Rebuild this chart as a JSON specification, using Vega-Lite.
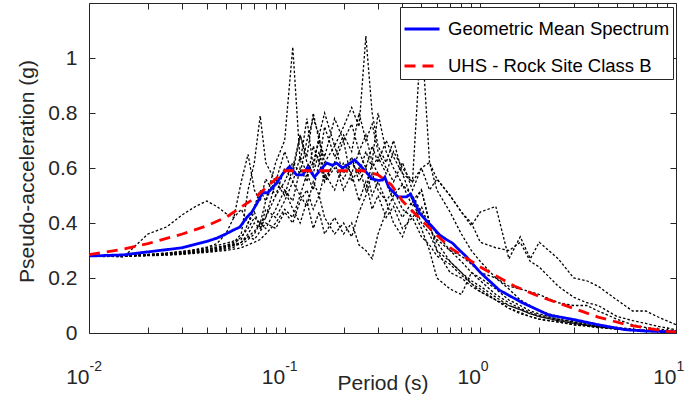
{
  "$schema": "https://vega.github.io/schema/vega-lite/v6.json",
  "width": 587,
  "height": 330,
  "autosize": {"type": "none"},
  "padding": {"left": 89, "top": 3, "right": 13, "bottom": 61},
  "config": {
    "view": {"stroke": "#262626", "strokeWidth": 1},
    "font": "Liberation Sans",
    "axis": {"grid": false, "domain": false, "tickColor": "#262626", "tickWidth": 1, "labelColor": "#262626", "titleColor": "#262626", "labelFont": "Liberation Sans", "titleFont": "Liberation Sans", "titleFontWeight": "normal", "labelFlush": false, "labelOverlap": false, "labelBound": false},
    "legend": {"orient": "none", "legendX": 311, "legendY": 4, "direction": "vertical", "strokeColor": "#262626", "fillColor": "white", "padding": 3, "labelFontSize": 18.5, "labelFont": "Liberation Sans", "labelColor": "black", "symbolType": "stroke", "symbolSize": 1225, "symbolStrokeWidth": 3, "rowPadding": 8, "labelOffset": 7, "labelLimit": 400}
  },
  "datasets": {
    "rec": [
      {"T": 0.01, "r1": 0.28, "r2": 0.28, "r3": 0.279, "r4": 0.28, "r5": 0.281, "r6": 0.28, "r7": 0.28, "r8": 0.279, "r9": 0.28, "r10": 0.28},
      {"T": 0.012, "r1": 0.28, "r2": 0.28, "r3": 0.278, "r4": 0.279, "r5": 0.28, "r6": 0.279, "r7": 0.28, "r8": 0.279, "r9": 0.28, "r10": 0.279},
      {"T": 0.015, "r1": 0.276, "r2": 0.281, "r3": 0.28, "r4": 0.28, "r5": 0.279, "r6": 0.281, "r7": 0.282, "r8": 0.28, "r9": 0.281, "r10": 0.28},
      {"T": 0.02, "r1": 0.36, "r2": 0.284, "r3": 0.282, "r4": 0.283, "r5": 0.281, "r6": 0.284, "r7": 0.286, "r8": 0.283, "r9": 0.285, "r10": 0.282},
      {"T": 0.025, "r1": 0.386, "r2": 0.288, "r3": 0.285, "r4": 0.286, "r5": 0.283, "r6": 0.289, "r7": 0.291, "r8": 0.287, "r9": 0.29, "r10": 0.285},
      {"T": 0.03, "r1": 0.43, "r2": 0.292, "r3": 0.288, "r4": 0.29, "r5": 0.286, "r6": 0.294, "r7": 0.297, "r8": 0.291, "r9": 0.296, "r10": 0.289},
      {"T": 0.035, "r1": 0.46, "r2": 0.297, "r3": 0.292, "r4": 0.294, "r5": 0.29, "r6": 0.3, "r7": 0.303, "r8": 0.296, "r9": 0.303, "r10": 0.293},
      {"T": 0.04, "r1": 0.48, "r2": 0.302, "r3": 0.296, "r4": 0.298, "r5": 0.293, "r6": 0.306, "r7": 0.31, "r8": 0.302, "r9": 0.312, "r10": 0.298},
      {"T": 0.045, "r1": 0.46, "r2": 0.308, "r3": 0.3, "r4": 0.303, "r5": 0.297, "r6": 0.312, "r7": 0.318, "r8": 0.31, "r9": 0.325, "r10": 0.303},
      {"T": 0.05, "r1": 0.435, "r2": 0.315, "r3": 0.305, "r4": 0.31, "r5": 0.3, "r6": 0.318, "r7": 0.326, "r8": 0.318, "r9": 0.36, "r10": 0.31},
      {"T": 0.055, "r1": 0.42, "r2": 0.322, "r3": 0.312, "r4": 0.318, "r5": 0.305, "r6": 0.325, "r7": 0.335, "r8": 0.33, "r9": 0.42, "r10": 0.32},
      {"T": 0.06, "r1": 0.45, "r2": 0.35, "r3": 0.33, "r4": 0.33, "r5": 0.31, "r6": 0.32, "r7": 0.34, "r8": 0.36, "r9": 0.55, "r10": 0.33},
      {"T": 0.065, "r1": 0.4, "r2": 0.38, "r3": 0.35, "r4": 0.36, "r5": 0.32, "r6": 0.34, "r7": 0.4, "r8": 0.52, "r9": 0.65, "r10": 0.35},
      {"T": 0.07, "r1": 0.44, "r2": 0.42, "r3": 0.37, "r4": 0.4, "r5": 0.33, "r6": 0.36, "r7": 0.46, "r8": 0.62, "r9": 0.52, "r10": 0.34},
      {"T": 0.075, "r1": 0.38, "r2": 0.4, "r3": 0.4, "r4": 0.38, "r5": 0.34, "r6": 0.4, "r7": 0.52, "r8": 0.79, "r9": 0.48, "r10": 0.37},
      {"T": 0.08, "r1": 0.42, "r2": 0.48, "r3": 0.42, "r4": 0.45, "r5": 0.36, "r6": 0.38, "r7": 0.48, "r8": 0.62, "r9": 0.56, "r10": 0.4},
      {"T": 0.09, "r1": 0.55, "r2": 0.62, "r3": 0.5, "r4": 0.42, "r5": 0.4, "r6": 0.45, "r7": 0.56, "r8": 0.55, "r9": 0.5, "r10": 0.38},
      {"T": 0.1, "r1": 0.5, "r2": 0.7, "r3": 0.55, "r4": 0.48, "r5": 0.45, "r6": 0.52, "r7": 0.52, "r8": 0.66, "r9": 0.6, "r10": 0.44},
      {"T": 0.11, "r1": 0.6, "r2": 1.04, "r3": 0.62, "r4": 0.55, "r5": 0.42, "r6": 0.48, "r7": 0.45, "r8": 0.58, "r9": 0.55, "r10": 0.4},
      {"T": 0.12, "r1": 0.72, "r2": 0.62, "r3": 0.58, "r4": 0.5, "r5": 0.5, "r6": 0.6, "r7": 0.4, "r8": 0.72, "r9": 0.64, "r10": 0.48},
      {"T": 0.13, "r1": 0.62, "r2": 0.78, "r3": 0.7, "r4": 0.58, "r5": 0.46, "r6": 0.55, "r7": 0.48, "r8": 0.64, "r9": 0.58, "r10": 0.52},
      {"T": 0.14, "r1": 0.58, "r2": 0.6, "r3": 0.78, "r4": 0.52, "r5": 0.55, "r6": 0.68, "r7": 0.38, "r8": 0.8, "r9": 0.62, "r10": 0.45},
      {"T": 0.15, "r1": 0.66, "r2": 0.72, "r3": 0.72, "r4": 0.62, "r5": 0.5, "r6": 0.62, "r7": 0.44, "r8": 0.7, "r9": 0.7, "r10": 0.5},
      {"T": 0.16, "r1": 0.55, "r2": 0.56, "r3": 0.8, "r4": 0.55, "r5": 0.58, "r6": 0.75, "r7": 0.36, "r8": 0.62, "r9": 0.64, "r10": 0.42},
      {"T": 0.18, "r1": 0.62, "r2": 0.62, "r3": 0.68, "r4": 0.6, "r5": 0.52, "r6": 0.64, "r7": 0.42, "r8": 0.68, "r9": 0.78, "r10": 0.36},
      {"T": 0.2, "r1": 0.7, "r2": 0.52, "r3": 0.75, "r4": 0.56, "r5": 0.62, "r6": 0.72, "r7": 0.36, "r8": 0.58, "r9": 0.7, "r10": 0.4},
      {"T": 0.22, "r1": 0.55, "r2": 0.58, "r3": 0.82, "r4": 0.62, "r5": 0.58, "r6": 0.66, "r7": 0.4, "r8": 0.64, "r9": 0.76, "r10": 0.35},
      {"T": 0.24, "r1": 0.6, "r2": 0.48, "r3": 0.75, "r4": 0.58, "r5": 0.66, "r6": 0.8, "r7": 0.32, "r8": 0.55, "r9": 0.66, "r10": 0.44},
      {"T": 0.26, "r1": 0.52, "r2": 0.55, "r3": 1.08, "r4": 0.66, "r5": 0.6, "r6": 0.7, "r7": 0.3, "r8": 0.6, "r9": 0.72, "r10": 0.5},
      {"T": 0.28, "r1": 0.62, "r2": 0.45, "r3": 0.8, "r4": 0.6, "r5": 0.68, "r6": 0.76, "r7": 0.27, "r8": 0.5, "r9": 0.62, "r10": 0.58},
      {"T": 0.3, "r1": 0.58, "r2": 0.5, "r3": 0.68, "r4": 0.64, "r5": 0.62, "r6": 0.66, "r7": 0.36, "r8": 0.55, "r9": 0.8, "r10": 0.52},
      {"T": 0.33, "r1": 0.55, "r2": 0.42, "r3": 0.62, "r4": 0.58, "r5": 0.7, "r6": 0.6, "r7": 0.44, "r8": 0.48, "r9": 0.66, "r10": 0.48},
      {"T": 0.36, "r1": 0.48, "r2": 0.46, "r3": 0.7, "r4": 0.66, "r5": 0.64, "r6": 0.55, "r7": 0.5, "r8": 0.52, "r9": 0.6, "r10": 0.4},
      {"T": 0.4, "r1": 0.42, "r2": 0.38, "r3": 0.58, "r4": 0.6, "r5": 0.58, "r6": 0.62, "r7": 0.54, "r8": 0.45, "r9": 0.54, "r10": 0.35},
      {"T": 0.45, "r1": 0.48, "r2": 0.42, "r3": 0.48, "r4": 0.55, "r5": 0.55, "r6": 0.52, "r7": 0.46, "r8": 0.42, "r9": 0.5, "r10": 0.45},
      {"T": 0.5, "r1": 0.4, "r2": 0.35, "r3": 0.52, "r4": 1.1, "r5": 0.6, "r6": 0.6, "r7": 0.52, "r8": 0.46, "r9": 0.44, "r10": 0.38},
      {"T": 0.55, "r1": 0.36, "r2": 0.32, "r3": 0.4, "r4": 0.62, "r5": 0.52, "r6": 0.62, "r7": 0.4, "r8": 0.38, "r9": 0.38, "r10": 0.3},
      {"T": 0.6, "r1": 0.3, "r2": 0.28, "r3": 0.36, "r4": 0.52, "r5": 0.56, "r6": 0.56, "r7": 0.3, "r8": 0.34, "r9": 0.33, "r10": 0.2},
      {"T": 0.7, "r1": 0.26, "r2": 0.25, "r3": 0.3, "r4": 0.44, "r5": 0.5, "r6": 0.5, "r7": 0.22, "r8": 0.3, "r9": 0.26, "r10": 0.16},
      {"T": 0.8, "r1": 0.22, "r2": 0.21, "r3": 0.26, "r4": 0.36, "r5": 0.44, "r6": 0.44, "r7": 0.2, "r8": 0.28, "r9": 0.22, "r10": 0.14},
      {"T": 0.9, "r1": 0.18, "r2": 0.18, "r3": 0.22, "r4": 0.3, "r5": 0.39, "r6": 0.4, "r7": 0.17, "r8": 0.25, "r9": 0.19, "r10": 0.22},
      {"T": 1.0, "r1": 0.16, "r2": 0.15, "r3": 0.19, "r4": 0.26, "r5": 0.44, "r6": 0.33, "r7": 0.15, "r8": 0.22, "r9": 0.17, "r10": 0.2},
      {"T": 1.2, "r1": 0.12, "r2": 0.12, "r3": 0.14, "r4": 0.2, "r5": 0.46, "r6": 0.31, "r7": 0.12, "r8": 0.2, "r9": 0.13, "r10": 0.16},
      {"T": 1.4, "r1": 0.09, "r2": 0.1, "r3": 0.11, "r4": 0.16, "r5": 0.27, "r6": 0.3, "r7": 0.09, "r8": 0.17, "r9": 0.1, "r10": 0.12},
      {"T": 1.6, "r1": 0.075, "r2": 0.085, "r3": 0.09, "r4": 0.12, "r5": 0.35, "r6": 0.33, "r7": 0.07, "r8": 0.16, "r9": 0.085, "r10": 0.1},
      {"T": 1.8, "r1": 0.06, "r2": 0.07, "r3": 0.075, "r4": 0.1, "r5": 0.27, "r6": 0.26, "r7": 0.06, "r8": 0.15, "r9": 0.07, "r10": 0.08},
      {"T": 2.0, "r1": 0.05, "r2": 0.06, "r3": 0.065, "r4": 0.08, "r5": 0.33, "r6": 0.24, "r7": 0.05, "r8": 0.14, "r9": 0.06, "r10": 0.07},
      {"T": 2.5, "r1": 0.04, "r2": 0.045, "r3": 0.05, "r4": 0.06, "r5": 0.27, "r6": 0.17, "r7": 0.04, "r8": 0.11, "r9": 0.045, "r10": 0.05},
      {"T": 3.0, "r1": 0.03, "r2": 0.035, "r3": 0.04, "r4": 0.045, "r5": 0.2, "r6": 0.13, "r7": 0.03, "r8": 0.1, "r9": 0.035, "r10": 0.04},
      {"T": 3.5, "r1": 0.025, "r2": 0.028, "r3": 0.03, "r4": 0.035, "r5": 0.19, "r6": 0.11, "r7": 0.025, "r8": 0.1, "r9": 0.028, "r10": 0.03},
      {"T": 4.0, "r1": 0.02, "r2": 0.022, "r3": 0.025, "r4": 0.028, "r5": 0.17, "r6": 0.1, "r7": 0.02, "r8": 0.08, "r9": 0.022, "r10": 0.025},
      {"T": 5.0, "r1": 0.015, "r2": 0.015, "r3": 0.017, "r4": 0.02, "r5": 0.12, "r6": 0.06, "r7": 0.014, "r8": 0.05, "r9": 0.015, "r10": 0.018},
      {"T": 6.0, "r1": 0.01, "r2": 0.011, "r3": 0.012, "r4": 0.014, "r5": 0.08, "r6": 0.045, "r7": 0.01, "r8": 0.03, "r9": 0.01, "r10": 0.012},
      {"T": 7.0, "r1": 0.008, "r2": 0.008, "r3": 0.009, "r4": 0.01, "r5": 0.08, "r6": 0.035, "r7": 0.008, "r8": 0.02, "r9": 0.008, "r10": 0.009},
      {"T": 8.0, "r1": 0.006, "r2": 0.006, "r3": 0.007, "r4": 0.008, "r5": 0.06, "r6": 0.025, "r7": 0.006, "r8": 0.015, "r9": 0.006, "r10": 0.007},
      {"T": 10.0, "r1": 0.004, "r2": 0.004, "r3": 0.005, "r4": 0.005, "r5": 0.03, "r6": 0.012, "r7": 0.004, "r8": 0.008, "r9": 0.004, "r10": 0.005}
    ],
    "mean": [
      {"s": "Geometric Mean Spectrum", "T": 0.01, "Sa": 0.28},
      {"s": "Geometric Mean Spectrum", "T": 0.015, "Sa": 0.284},
      {"s": "Geometric Mean Spectrum", "T": 0.02, "Sa": 0.295},
      {"s": "Geometric Mean Spectrum", "T": 0.03, "Sa": 0.31},
      {"s": "Geometric Mean Spectrum", "T": 0.04, "Sa": 0.333},
      {"s": "Geometric Mean Spectrum", "T": 0.045, "Sa": 0.345},
      {"s": "Geometric Mean Spectrum", "T": 0.05, "Sa": 0.36},
      {"s": "Geometric Mean Spectrum", "T": 0.055, "Sa": 0.375},
      {"s": "Geometric Mean Spectrum", "T": 0.059, "Sa": 0.385},
      {"s": "Geometric Mean Spectrum", "T": 0.064, "Sa": 0.42},
      {"s": "Geometric Mean Spectrum", "T": 0.068, "Sa": 0.44},
      {"s": "Geometric Mean Spectrum", "T": 0.072, "Sa": 0.47},
      {"s": "Geometric Mean Spectrum", "T": 0.077, "Sa": 0.51},
      {"s": "Geometric Mean Spectrum", "T": 0.082, "Sa": 0.51},
      {"s": "Geometric Mean Spectrum", "T": 0.091, "Sa": 0.545},
      {"s": "Geometric Mean Spectrum", "T": 0.098, "Sa": 0.58},
      {"s": "Geometric Mean Spectrum", "T": 0.106, "Sa": 0.605},
      {"s": "Geometric Mean Spectrum", "T": 0.115, "Sa": 0.575},
      {"s": "Geometric Mean Spectrum", "T": 0.124, "Sa": 0.575},
      {"s": "Geometric Mean Spectrum", "T": 0.131, "Sa": 0.603},
      {"s": "Geometric Mean Spectrum", "T": 0.142, "Sa": 0.567},
      {"s": "Geometric Mean Spectrum", "T": 0.153, "Sa": 0.595},
      {"s": "Geometric Mean Spectrum", "T": 0.164, "Sa": 0.618},
      {"s": "Geometric Mean Spectrum", "T": 0.175, "Sa": 0.61},
      {"s": "Geometric Mean Spectrum", "T": 0.184, "Sa": 0.618},
      {"s": "Geometric Mean Spectrum", "T": 0.198, "Sa": 0.6},
      {"s": "Geometric Mean Spectrum", "T": 0.213, "Sa": 0.615},
      {"s": "Geometric Mean Spectrum", "T": 0.228, "Sa": 0.63},
      {"s": "Geometric Mean Spectrum", "T": 0.25, "Sa": 0.6},
      {"s": "Geometric Mean Spectrum", "T": 0.28, "Sa": 0.56},
      {"s": "Geometric Mean Spectrum", "T": 0.3, "Sa": 0.555},
      {"s": "Geometric Mean Spectrum", "T": 0.316, "Sa": 0.556},
      {"s": "Geometric Mean Spectrum", "T": 0.325, "Sa": 0.567},
      {"s": "Geometric Mean Spectrum", "T": 0.34, "Sa": 0.53},
      {"s": "Geometric Mean Spectrum", "T": 0.38, "Sa": 0.495},
      {"s": "Geometric Mean Spectrum", "T": 0.42, "Sa": 0.495},
      {"s": "Geometric Mean Spectrum", "T": 0.44, "Sa": 0.505},
      {"s": "Geometric Mean Spectrum", "T": 0.49, "Sa": 0.435},
      {"s": "Geometric Mean Spectrum", "T": 0.57, "Sa": 0.385},
      {"s": "Geometric Mean Spectrum", "T": 0.62, "Sa": 0.356},
      {"s": "Geometric Mean Spectrum", "T": 0.67, "Sa": 0.34},
      {"s": "Geometric Mean Spectrum", "T": 0.72, "Sa": 0.327},
      {"s": "Geometric Mean Spectrum", "T": 0.76, "Sa": 0.31},
      {"s": "Geometric Mean Spectrum", "T": 0.85, "Sa": 0.277},
      {"s": "Geometric Mean Spectrum", "T": 1.0, "Sa": 0.22},
      {"s": "Geometric Mean Spectrum", "T": 1.25, "Sa": 0.156},
      {"s": "Geometric Mean Spectrum", "T": 1.65, "Sa": 0.109},
      {"s": "Geometric Mean Spectrum", "T": 2.25, "Sa": 0.065},
      {"s": "Geometric Mean Spectrum", "T": 2.95, "Sa": 0.05},
      {"s": "Geometric Mean Spectrum", "T": 4.0, "Sa": 0.03},
      {"s": "Geometric Mean Spectrum", "T": 5.5, "Sa": 0.012},
      {"s": "Geometric Mean Spectrum", "T": 7.0, "Sa": 0.007},
      {"s": "Geometric Mean Spectrum", "T": 10.0, "Sa": 0.004}
    ],
    "uhs": [
      {"s": "UHS - Rock Site Class B", "T": 0.01, "Sa": 0.285},
      {"s": "UHS - Rock Site Class B", "T": 0.015, "Sa": 0.305},
      {"s": "UHS - Rock Site Class B", "T": 0.02, "Sa": 0.325},
      {"s": "UHS - Rock Site Class B", "T": 0.03, "Sa": 0.36},
      {"s": "UHS - Rock Site Class B", "T": 0.04, "Sa": 0.39},
      {"s": "UHS - Rock Site Class B", "T": 0.05, "Sa": 0.42},
      {"s": "UHS - Rock Site Class B", "T": 0.07, "Sa": 0.49},
      {"s": "UHS - Rock Site Class B", "T": 0.09, "Sa": 0.56},
      {"s": "UHS - Rock Site Class B", "T": 0.1, "Sa": 0.59},
      {"s": "UHS - Rock Site Class B", "T": 0.15, "Sa": 0.59},
      {"s": "UHS - Rock Site Class B", "T": 0.2, "Sa": 0.59},
      {"s": "UHS - Rock Site Class B", "T": 0.25, "Sa": 0.59},
      {"s": "UHS - Rock Site Class B", "T": 0.3, "Sa": 0.575},
      {"s": "UHS - Rock Site Class B", "T": 0.35, "Sa": 0.54},
      {"s": "UHS - Rock Site Class B", "T": 0.4, "Sa": 0.48},
      {"s": "UHS - Rock Site Class B", "T": 0.5, "Sa": 0.41},
      {"s": "UHS - Rock Site Class B", "T": 0.7, "Sa": 0.31},
      {"s": "UHS - Rock Site Class B", "T": 1.0, "Sa": 0.24},
      {"s": "UHS - Rock Site Class B", "T": 1.5, "Sa": 0.17},
      {"s": "UHS - Rock Site Class B", "T": 2.0, "Sa": 0.133},
      {"s": "UHS - Rock Site Class B", "T": 2.85, "Sa": 0.095},
      {"s": "UHS - Rock Site Class B", "T": 4.0, "Sa": 0.058},
      {"s": "UHS - Rock Site Class B", "T": 5.6, "Sa": 0.03},
      {"s": "UHS - Rock Site Class B", "T": 8.9, "Sa": 0.006},
      {"s": "UHS - Rock Site Class B", "T": 10.0, "Sa": 0.004}
    ]
  },
  "layer": [
    {
      "data": {"name": "rec"},
      "transform": [{"fold": ["r1", "r2", "r3", "r4", "r5", "r6", "r7", "r8", "r9", "r10"], "as": ["rec", "Sa"]}],
      "mark": {"type": "line", "color": "black", "strokeWidth": 1.3, "strokeDash": [2.5, 2]},
      "encoding": {
        "x": {"field": "T", "type": "quantitative", "scale": {"type": "log", "domain": [0.01, 10], "nice": false},
          "axis": {"orient": "bottom", "offset": -6, "values": [0.01,0.02,0.03,0.04,0.05,0.06,0.07,0.08,0.09,0.1,0.2,0.3,0.4,0.5,0.6,0.7,0.8,0.9,1,2,3,4,5,6,7,8,9,10], "tickSize": 6, "labelExpr": "indexof([0.01,0.1,1,10], datum.value) >= 0 ? '10' : ''", "labelFontSize": 21, "labelAlign": "right", "labelDx": 3, "labelPadding": 33, "title": "Period (s)", "titleFontSize": 21, "titleBaseline": "alphabetic", "titleY": 62}},
        "y": {"field": "Sa", "type": "quantitative", "scale": {"domain": [0, 1.2], "nice": false, "zero": false},
          "axis": {"orient": "left", "offset": -6, "values": [0, 0.2, 0.4, 0.6, 0.8, 1], "tickSize": 6, "labelExpr": "'' + datum.value", "labelFontSize": 21, "labelPadding": 12, "labelDy": 3, "title": "Pseudo-acceleration (g)", "titleFontSize": 21, "titleX": -68, "titleY": 168, "titleBaseline": "middle", "titleAngle": -90}},
        "detail": {"field": "rec"}
      }
    },
    {
      "data": {"name": "mean"},
      "mark": {"type": "line", "strokeWidth": 2.8},
      "encoding": {
        "x": {"field": "T", "type": "quantitative", "scale": {"type": "log", "domain": [0.01, 10], "nice": false},
          "axis": {"orient": "top", "offset": -6, "values": [0.01,0.02,0.03,0.04,0.05,0.06,0.07,0.08,0.09,0.1,0.2,0.3,0.4,0.5,0.6,0.7,0.8,0.9,1,2,3,4,5,6,7,8,9,10], "tickSize": 6, "labels": false, "title": null}},
        "y": {"field": "Sa", "type": "quantitative", "scale": {"domain": [0, 1.2], "nice": false, "zero": false},
          "axis": {"orient": "right", "offset": -6, "values": [0, 0.2, 0.4, 0.6, 0.8, 1], "tickSize": 6, "labels": false, "title": null}},
        "color": {"field": "s", "type": "nominal", "scale": {"domain": ["Geometric Mean Spectrum", "UHS - Rock Site Class B"], "range": ["#0000ff", "#ff0000"]}, "legend": {"title": null}},
        "strokeDash": {"field": "s", "type": "nominal", "scale": {"domain": ["Geometric Mean Spectrum", "UHS - Rock Site Class B"], "range": [[1, 0], [11, 7]]}, "legend": {"title": null}}
      }
    },
    {
      "data": {"name": "uhs"},
      "mark": {"type": "line", "strokeWidth": 2.8},
      "encoding": {
        "x": {"field": "T", "type": "quantitative", "scale": {"type": "log", "domain": [0.01, 10], "nice": false},
          "axis": {"orient": "bottom", "values": [0.01, 0.1, 1, 10], "ticks": false, "labelExpr": "datum.value == 0.01 ? '-2' : datum.value == 0.1 ? '-1' : datum.value == 1 ? '0' : '1'", "labelFontSize": 14, "labelAlign": "left", "labelDx": 4, "labelPadding": 26, "title": null}},
        "y": {"field": "Sa", "type": "quantitative", "scale": {"domain": [0, 1.2], "nice": false, "zero": false}, "axis": null},
        "color": {"field": "s", "type": "nominal", "scale": {"domain": ["Geometric Mean Spectrum", "UHS - Rock Site Class B"], "range": ["#0000ff", "#ff0000"]}, "legend": {"title": null}},
        "strokeDash": {"field": "s", "type": "nominal", "scale": {"domain": ["Geometric Mean Spectrum", "UHS - Rock Site Class B"], "range": [[1, 0], [11, 7]]}, "legend": {"title": null}}
      }
    }
  ],
  "resolve": {"axis": {"x": "independent", "y": "independent"}}
}
